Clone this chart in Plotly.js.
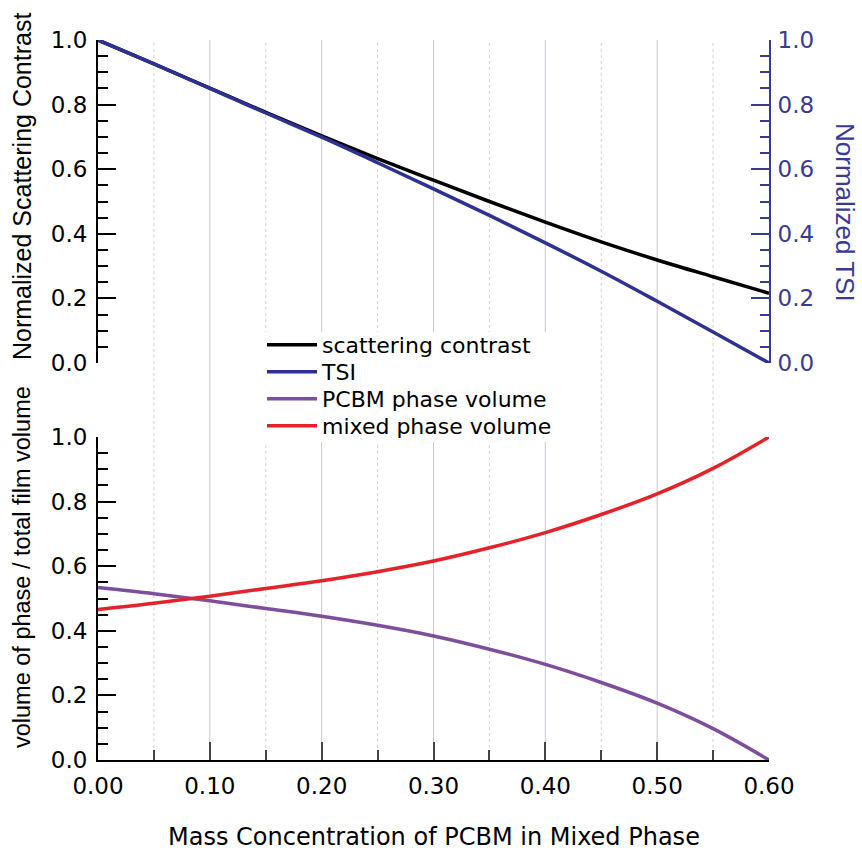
<!DOCTYPE html>
<html>
<head>
<meta charset="utf-8">
<script src="https://cdn.plot.ly/plotly-3.0.1.min.js"></script>
<style>html,body{margin:0;padding:0;background:#fff;}#chart{width:862px;height:854px;}</style>
</head>
<body>
<div id="chart"></div>
<script>
// Mass concentration of PCBM in mixed phase
const massConc = [0, 0.05, 0.10, 0.15, 0.20, 0.25, 0.30, 0.35, 0.40, 0.45, 0.50, 0.55, 0.60];
// Top panel
const scatteringContrast = [1.000, 0.926, 0.851, 0.776, 0.703, 0.633, 0.566, 0.500, 0.436, 0.375, 0.319, 0.267, 0.216];
const tsi = [1.000, 0.926, 0.850, 0.774, 0.699, 0.620, 0.539, 0.457, 0.372, 0.284, 0.191, 0.096, 0.000];
// Bottom panel
const pcbmPhaseVolume = [0.534, 0.515, 0.493, 0.469, 0.445, 0.417, 0.384, 0.343, 0.296, 0.240, 0.176, 0.097, 0.000];
const mixedPhaseVolume = [0.466, 0.485, 0.507, 0.531, 0.555, 0.583, 0.616, 0.657, 0.704, 0.760, 0.824, 0.903, 1.000];

const xTickVals = [0, 0.1, 0.2, 0.3, 0.4, 0.5, 0.6];
const xTickText = ['0.00', '0.10', '0.20', '0.30', '0.40', '0.50', '0.60'];
const yTickVals = [0, 0.2, 0.4, 0.6, 0.8, 1.0];
const yTickText = ['0.0', '0.2', '0.4', '0.6', '0.8', '1.0'];
const gridSolid = [0.1, 0.2, 0.3, 0.4, 0.5];
const gridDotted = [0.05, 0.15, 0.25, 0.35, 0.45, 0.55];

const FONT = 'DejaVu Sans, Liberation Sans, Arial, sans-serif';
const VFONT = 'Liberation Sans, Arial, Helvetica, sans-serif';
const BLUE = '#2E3192';
const AXBLUE = '#3A3A94';

const traces = [
  {x: massConc, y: scatteringContrast, name: 'scattering contrast', type: 'scatter', mode: 'lines', legend: 'legend',
   line: {color: '#000000', width: 3.5, shape: 'spline'}, xaxis: 'x2', yaxis: 'y'},
  {x: massConc, y: tsi, name: 'TSI', type: 'scatter', mode: 'lines', legend: 'legend2',
   line: {color: BLUE, width: 3.5, shape: 'spline'}, xaxis: 'x2', yaxis: 'y3'},
  {x: massConc, y: pcbmPhaseVolume, name: 'PCBM phase volume', type: 'scatter', mode: 'lines', legend: 'legend3',
   line: {color: '#7D4E9C', width: 3.5, shape: 'spline'}, xaxis: 'x', yaxis: 'y2'},
  {x: massConc, y: mixedPhaseVolume, name: 'mixed phase volume', type: 'scatter', mode: 'lines', legend: 'legend4',
   line: {color: '#E3232A', width: 3.5, shape: 'spline'}, xaxis: 'x', yaxis: 'y2'}
];

// plot-area pixel helpers (plot area: x 98..769, y 40..760)
const px = v => (v - 98) / 671;
const py = v => (760 - v) / 720;

const shapes = [];
gridSolid.forEach(v => shapes.push({type: 'line', xref: 'x', yref: 'paper', x0: v, x1: v, y0: 0, y1: 1,
  layer: 'below', line: {color: '#c9c9d3', width: 1}}));
gridDotted.forEach(v => shapes.push({type: 'line', xref: 'x', yref: 'paper', x0: v, x1: v, y0: 0, y1: 1,
  layer: 'below', line: {color: '#d2d2d2', width: 1, dash: 'dot'}}));
// white backing for the legend block
shapes.push({type: 'rect', xref: 'paper', yref: 'paper', x0: px(258), x1: px(590), y0: py(442), y1: py(332),
  layer: 'below', line: {width: 0}, fillcolor: '#ffffff'});

const topDomain = [py(363), 1];
const botDomain = [0, py(437)];

const TICKFONT = {family: FONT, size: 23, color: '#000'};
const yCommon = {
  range: [0, 1], tickvals: yTickVals, ticktext: yTickText, ticks: 'inside', ticklen: 18, tickwidth: 2,
  showline: true, linewidth: 2, showgrid: false, zeroline: false, fixedrange: true, ticklabelstandoff: 4,
  minor: {dtick: 0.05, ticks: 'inside', ticklen: 10, tickwidth: 2, showgrid: false},
  tickfont: TICKFONT
};

const legendRows = [345, 372, 399, 426];
const legendBase = {xanchor: 'left', yanchor: 'middle', bgcolor: 'rgba(0,0,0,0)', itemwidth: 50,
  font: {family: FONT, size: 22, color: '#000'}};

const layout = {
  width: 862, height: 854,
  margin: {l: 98, r: 93, t: 40, b: 94},
  paper_bgcolor: '#ffffff', plot_bgcolor: 'rgba(0,0,0,0)',
  font: {family: FONT, color: '#000'},
  showlegend: true,
  legend: Object.assign({}, legendBase, {x: px(262), y: py(legendRows[0])}),
  legend2: Object.assign({}, legendBase, {x: px(262), y: py(legendRows[1])}),
  legend3: Object.assign({}, legendBase, {x: px(262), y: py(legendRows[2])}),
  legend4: Object.assign({}, legendBase, {x: px(262), y: py(legendRows[3])}),
  xaxis: {domain: [0, 1], anchor: 'y2', range: [0, 0.6], tickvals: xTickVals, ticktext: xTickText,
    ticks: 'inside', ticklen: 18, tickwidth: 2, showline: true, linewidth: 2, linecolor: '#000',
    showgrid: false, zeroline: false, fixedrange: true, ticklabelstandoff: 4,
    minor: {dtick: 0.05, ticks: 'inside', ticklen: 10, tickwidth: 2, showgrid: false},
    tickfont: TICKFONT},
  xaxis2: {domain: [0, 1], anchor: 'y', matches: 'x', range: [0, 0.6], visible: false, showgrid: false, zeroline: false},
  yaxis: Object.assign({}, yCommon, {domain: topDomain, anchor: 'x2', side: 'left', linecolor: '#000', tickcolor: '#000'}),
  yaxis3: Object.assign({}, yCommon, {overlaying: 'y', anchor: 'x2', side: 'right', linecolor: AXBLUE, tickcolor: AXBLUE,
    ticklabelstandoff: 2,
    minor: {dtick: 0.05, ticks: 'inside', ticklen: 9, tickwidth: 2, tickcolor: AXBLUE, showgrid: false},
    tickfont: {family: FONT, size: 23, color: AXBLUE}}),
  yaxis2: Object.assign({}, yCommon, {domain: botDomain, anchor: 'x', side: 'left', linecolor: '#000', tickcolor: '#000'}),
  shapes: shapes,
  annotations: [
    {text: 'Normalized Scattering Contrast', xref: 'paper', yref: 'paper', x: px(22), y: py(187),
     textangle: -90, showarrow: false, font: {family: VFONT, size: 25, color: '#000'}, xanchor: 'center', yanchor: 'middle'},
    {text: 'volume of phase / total film volume', xref: 'paper', yref: 'paper', x: px(22), y: py(567),
     textangle: -90, showarrow: false, font: {family: VFONT, size: 23.5, color: '#000'}, xanchor: 'center', yanchor: 'middle'},
    {text: 'Normalized TSI', xref: 'paper', yref: 'paper', x: px(845), y: py(212),
     textangle: 90, showarrow: false, font: {family: VFONT, size: 26, color: AXBLUE}, xanchor: 'center', yanchor: 'middle'},
    {text: 'Mass Concentration of PCBM in Mixed Phase', xref: 'paper', yref: 'paper', x: px(434), y: py(837),
     showarrow: false, font: {family: FONT, size: 24, color: '#000'}, xanchor: 'center', yanchor: 'middle'}
  ]
};

Plotly.newPlot('chart', traces, layout, {displayModeBar: false, staticPlot: true});
</script>
</body>
</html>
